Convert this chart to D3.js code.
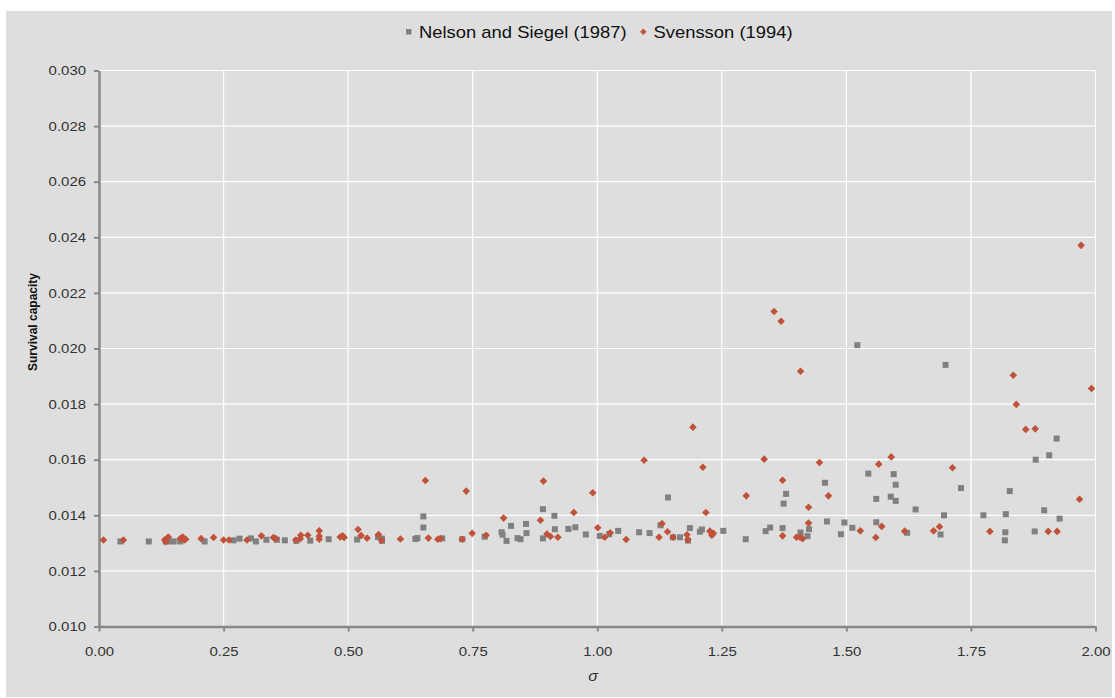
<!DOCTYPE html>
<html>
<head>
<meta charset="utf-8">
<script src="https://cdn.jsdelivr.net/npm/d3@7"></script>
<style>
  body { margin: 0; background: #ffffff; }
  text { font-family: "Liberation Sans", Arial, Helvetica, sans-serif; }
</style>
</head>
<body>
<div id="chart"></div>
<script>
// series: [sigma, survival capacity]
const nelsonSiegel = [
  [0.043,0.01306],[0.100,0.01306],[0.134,0.01306],[0.141,0.01306],[0.150,0.01306],
  [0.163,0.01306],[0.212,0.01306],[0.270,0.01310],[0.282,0.01316],[0.305,0.01317],
  [0.315,0.01306],[0.336,0.01312],[0.357,0.01312],[0.373,0.01310],[0.396,0.01308],
  [0.424,0.01309],[0.461,0.01314],[0.518,0.01313],[0.560,0.01322],[0.568,0.01316],
  [0.568,0.01308],[0.635,0.01315],[0.639,0.01318],[0.651,0.01396],[0.651,0.01356],
  [0.689,0.01317],[0.729,0.01314],[0.774,0.01323],[0.808,0.01339],[0.810,0.01330],
  [0.818,0.01308],[0.827,0.01362],[0.840,0.01318],[0.846,0.01314],[0.857,0.01369],
  [0.858,0.01336],[0.891,0.01422],[0.891,0.01317],[0.914,0.01398],[0.915,0.01350],
  [0.942,0.01351],[0.956,0.01357],[0.977,0.01331],[1.005,0.01326],[1.024,0.01332],
  [1.042,0.01344],[1.084,0.01339],[1.105,0.01336],[1.127,0.01364],[1.142,0.01464],
  [1.152,0.01321],[1.166,0.01321],[1.182,0.01309],[1.186,0.01354],[1.206,0.01341],
  [1.210,0.01349],[1.253,0.01344],[1.298,0.01314],[1.338,0.01343],[1.347,0.01356],
  [1.372,0.01354],[1.374,0.01442],[1.379,0.01477],[1.408,0.01338],[1.422,0.01325],
  [1.425,0.01350],[1.457,0.01517],[1.461,0.01378],[1.489,0.01332],[1.496,0.01374],
  [1.512,0.01355],[1.522,0.02012],[1.544,0.01550],[1.560,0.01459],[1.560,0.01375],
  [1.589,0.01467],[1.595,0.01548],[1.599,0.01510],[1.599,0.01452],[1.622,0.01337],
  [1.639,0.01421],[1.689,0.01331],[1.696,0.01400],[1.699,0.01941],[1.730,0.01498],
  [1.775,0.01400],[1.818,0.01310],[1.819,0.01339],[1.820,0.01404],[1.828,0.01487],
  [1.878,0.01342],[1.880,0.01600],[1.897,0.01418],[1.907,0.01616],[1.922,0.01676],
  [1.928,0.01388]
];

const svensson = [
  [0.009,0.01311],[0.049,0.01311],[0.132,0.01312],[0.134,0.01305],[0.139,0.01322],
  [0.163,0.01316],[0.168,0.01322],[0.174,0.01314],[0.171,0.01311],[0.205,0.01316],
  [0.230,0.01320],[0.250,0.01311],[0.261,0.01311],[0.297,0.01311],[0.326,0.01326],
  [0.350,0.01320],[0.355,0.01316],[0.395,0.01311],[0.404,0.01316],[0.405,0.01328],
  [0.419,0.01328],[0.442,0.01344],[0.442,0.01325],[0.442,0.01314],[0.484,0.01322],
  [0.489,0.01326],[0.492,0.01320],[0.520,0.01349],[0.526,0.01327],[0.538,0.01318],
  [0.561,0.01331],[0.567,0.01310],[0.605,0.01315],[0.655,0.01525],[0.661,0.01318],
  [0.680,0.01314],[0.685,0.01316],[0.729,0.01314],[0.737,0.01487],[0.749,0.01335],
  [0.777,0.01328],[0.812,0.01390],[0.886,0.01382],[0.892,0.01523],[0.899,0.01333],
  [0.906,0.01324],[0.921,0.01321],[0.953,0.01410],[0.991,0.01481],[1.001,0.01355],
  [1.015,0.01321],[1.026,0.01337],[1.058,0.01313],[1.094,0.01598],[1.124,0.01321],
  [1.130,0.01370],[1.141,0.01341],[1.152,0.01321],[1.180,0.01330],[1.182,0.01312],
  [1.192,0.01717],[1.212,0.01573],[1.218,0.01410],[1.226,0.01343],[1.230,0.01328],
  [1.233,0.01335],[1.299,0.01470],[1.335,0.01602],[1.355,0.02133],[1.369,0.02098],
  [1.372,0.01526],[1.372,0.01326],[1.400,0.01321],[1.407,0.01321],[1.408,0.01918],
  [1.412,0.01316],[1.424,0.01429],[1.424,0.01372],[1.446,0.01590],[1.464,0.01470],
  [1.528,0.01344],[1.559,0.01320],[1.565,0.01584],[1.571,0.01360],[1.590,0.01610],
  [1.617,0.01343],[1.675,0.01344],[1.687,0.01359],[1.713,0.01571],[1.788,0.01342],
  [1.835,0.01904],[1.841,0.01799],[1.860,0.01709],[1.879,0.01711],[1.905,0.01342],
  [1.923,0.01342],[1.968,0.01458],[1.971,0.02371],[1.992,0.01856]
];

const xTicks = [0, 0.25, 0.5, 0.75, 1, 1.25, 1.5, 1.75, 2];
const yTicks = [0.010, 0.012, 0.014, 0.016, 0.018, 0.020, 0.022, 0.024, 0.026, 0.028, 0.030];
const seriesNames = ["Nelson and Siegel (1987)", "Svensson (1994)"];

const width = 1115;
const height = 698;
const stretch = 1.15;   // reference text looks a bit wide
const axisColor = "#888888";
const grayColor = "#808080";
const redColor = "#bf5239";

const svg = d3.select("#chart")
  .append("svg")
  .attr("width", width)
  .attr("height", height);

// chart background
svg.append("rect")
  .attr("x", 6).attr("y", 11)
  .attr("width", 1106).attr("height", 686)
  .attr("fill", "#dedede");

const x = d3.scaleLinear().domain([0, 2]).range([99, 1095.5]);
const y = d3.scaleLinear().domain([0.010, 0.030]).range([626.5, 70.5]);

// gridlines
svg.append("g")
  .selectAll("line.vg")
  .data(xTicks.slice(1))
  .enter().append("line")
  .attr("x1", d => x(d)).attr("x2", d => x(d))
  .attr("y1", y(0.030)).attr("y2", y(0.010))
  .attr("stroke", "#ffffff").attr("stroke-width", 1.2);

svg.append("g")
  .selectAll("line.hg")
  .data(yTicks.slice(1))
  .enter().append("line")
  .attr("x1", x(0)).attr("x2", x(2))
  .attr("y1", d => y(d)).attr("y2", d => y(d))
  .attr("stroke", "#ffffff").attr("stroke-width", 1.2);

// x axis
const xAxis = svg.append("g")
  .attr("transform", `translate(0,${y(0.010)})`)
  .call(d3.axisBottom(x).tickValues(xTicks).tickFormat(d3.format(".2f")).tickSize(5).tickPadding(15).tickSizeOuter(0));
xAxis.select(".domain").attr("stroke", axisColor).attr("stroke-width", 2.5);
xAxis.selectAll(".tick line").attr("stroke", axisColor).attr("stroke-width", 2);
xAxis.selectAll(".tick text")
  .attr("fill", "#333")
  .style("font-size", "13px")
  .attr("transform", `scale(${stretch},1)`);

// y axis
const yAxis = svg.append("g")
  .attr("transform", `translate(${x(0)},0)`)
  .call(d3.axisLeft(y).tickValues(yTicks).tickFormat(d3.format(".3f")).tickSize(5).tickSizeOuter(0));
yAxis.select(".domain").attr("stroke", axisColor).attr("stroke-width", 2.5);
yAxis.selectAll(".tick line").attr("stroke", axisColor).attr("stroke-width", 2);
yAxis.selectAll(".tick text")
  .attr("fill", "#333")
  .attr("x", -13 / stretch)
  .style("font-size", "13px")
  .attr("transform", `scale(${stretch},1)`);

// axis titles
svg.append("text")
  .attr("transform", "translate(37,322) rotate(-90)")
  .attr("text-anchor", "middle")
  .style("font-size", "12px")
  .style("font-weight", "bold")
  .attr("fill", "#111")
  .text("Survival capacity");

svg.append("text")
  .attr("transform", `translate(593,681) scale(${stretch},1)`)
  .attr("text-anchor", "middle")
  .style("font-size", "14px")
  .style("font-style", "italic")
  .attr("fill", "#333")
  .text("σ");

// markers
const diamond = (cx, cy, r) => `M${cx},${cy - r}L${cx + r},${cy}L${cx},${cy + r}L${cx - r},${cy}Z`;

svg.append("g")
  .selectAll("rect")
  .data(nelsonSiegel)
  .enter().append("rect")
  .attr("x", d => x(d[0]) - 3)
  .attr("y", d => y(d[1]) - 3)
  .attr("width", 6).attr("height", 6)
  .attr("fill", grayColor);

svg.append("g")
  .selectAll("path")
  .data(svensson)
  .enter().append("path")
  .attr("d", d => diamond(x(d[0]), y(d[1]), 3.8))
  .attr("fill", redColor);

// legend
const legend = svg.append("g");
legend.append("rect")
  .attr("x", 406).attr("y", 29)
  .attr("width", 5.5).attr("height", 5.5)
  .attr("fill", grayColor);
legend.append("text")
  .attr("transform", `translate(419,37.5) scale(${stretch},1)`)
  .style("font-size", "16px")
  .attr("fill", "#111")
  .text(seriesNames[0]);
legend.append("path")
  .attr("d", diamond(643.3, 31.7, 3.2))
  .attr("fill", redColor);
legend.append("text")
  .attr("transform", `translate(653.5,37.5) scale(${stretch},1)`)
  .style("font-size", "16px")
  .attr("fill", "#111")
  .text(seriesNames[1]);
</script>
</body>
</html>
